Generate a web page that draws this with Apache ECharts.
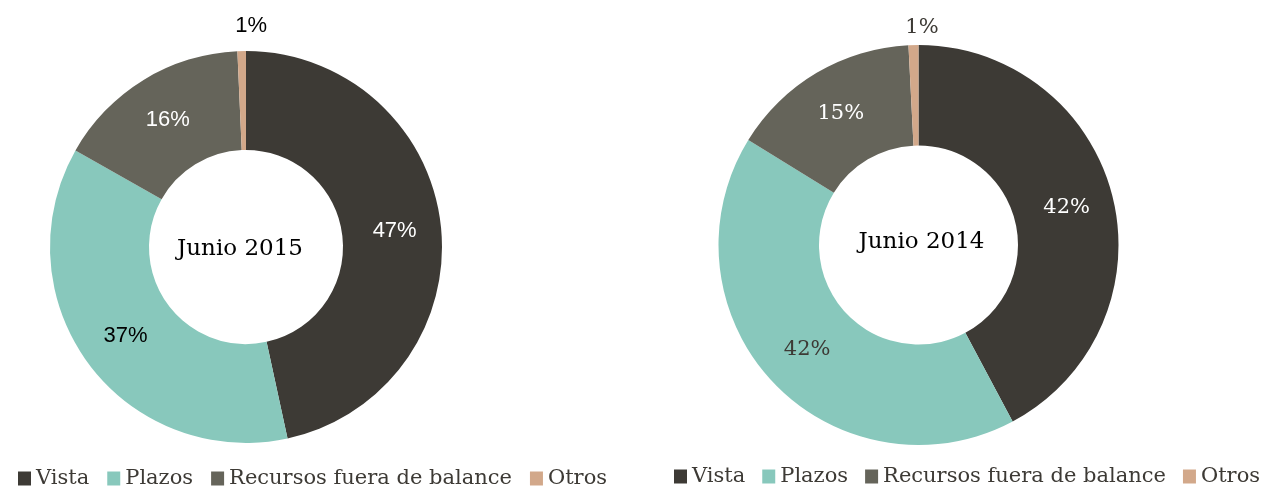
<!DOCTYPE html>
<html>
<head>
<meta charset="utf-8">
<script src="https://cdn.jsdelivr.net/npm/echarts@6/dist/echarts.min.js"></script>
<style>
html,body{margin:0;padding:0;background:#fff;}
#chart{width:1264px;height:486px;}
</style>
</head>
<body>
<div id="chart"></div>
<script>
const categories = ['Vista', 'Plazos', 'Recursos fuera de balance', 'Otros'];
const values2015 = [46.6, 36.6, 16.1, 0.7];
const values2014 = [42.2, 41.6, 15.4, 0.8];
const centerLabels = ['Junio 2015', 'Junio 2014'];

const colors = ['#3d3a35', '#88c8bc', '#65645a', '#d2a88a'];
const labelColorsLeft = ['#ffffff', '#000000', '#ffffff', '#000000'];
const labelColorsRight = ['#ffffff', '#3d3a35', '#ffffff', '#3d3a35'];

const leftPie = { center: [246, 247], radius: [97, 196] };
const rightPie = { center: [918.5, 245], radius: [99.5, 200] };

function buildData(values, labelColors, font, size, outsideLen) {
  return categories.map((name, i) => {
    const item = {
      name: name,
      value: values[i],
      itemStyle: { color: colors[i] },
      label: { color: labelColors[i], fontFamily: font, fontSize: size }
    };
    if (i === 3) {
      item.label.position = 'outside';
      item.labelLine = { show: false, length: outsideLen, length2: 0 };
    }
    return item;
  });
}

function pieSeries(pos, data, dxOtros) {
  return {
    type: 'pie',
    center: pos.center,
    radius: pos.radius,
    startAngle: 90,
    clockwise: true,
    avoidLabelOverlap: false,
    silent: true,
    label: {
      show: true,
      position: 'inside',
      formatter: p => Math.round(p.value) + '%'
    },
    labelLine: { show: false },
    labelLayout: function (p) {
      if (p.dataIndex === 3) return { align: 'center', dx: dxOtros };
      return {};
    },
    itemStyle: { borderWidth: 0 },
    emphasis: { disabled: true },
    data: data
  };
}

const legendText = { fontFamily: 'DejaVu Serif', fontSize: 21, color: '#3d3a35' };

const option = {
  backgroundColor: '#ffffff',
  animation: false,
  legend: [
    {
      data: categories, left: 13, top: 463, width: 700, orient: 'horizontal',
      itemWidth: 13, itemHeight: 14, itemGap: 18, icon: 'rect',
      textStyle: legendText, selectedMode: false
    },
    {
      data: categories, left: 669, top: 461, width: 700, orient: 'horizontal',
      itemWidth: 13, itemHeight: 14, itemGap: 17, icon: 'rect',
      textStyle: legendText, selectedMode: false
    }
  ],
  graphic: [
    {
      type: 'text', x: leftPie.center[0] - 6, y: leftPie.center[1] + 2,
      style: { text: centerLabels[0], fontFamily: 'DejaVu Serif', fontSize: 23, fill: '#000', align: 'center', verticalAlign: 'middle' }
    },
    {
      type: 'text', x: rightPie.center[0] + 3, y: rightPie.center[1] - 3,
      style: { text: centerLabels[1], fontFamily: 'DejaVu Serif', fontSize: 23, fill: '#000', align: 'center', verticalAlign: 'middle' }
    }
  ],
  series: [
    pieSeries(leftPie, buildData(values2015, labelColorsLeft, 'Liberation Sans', 22, 25), 15),
    pieSeries(rightPie, buildData(values2014, labelColorsRight, 'DejaVu Serif', 21, 18), 14)
  ]
};

const chart = echarts.init(document.getElementById('chart'), null, { renderer: 'canvas' });
chart.setOption(option);
</script>
</body>
</html>
